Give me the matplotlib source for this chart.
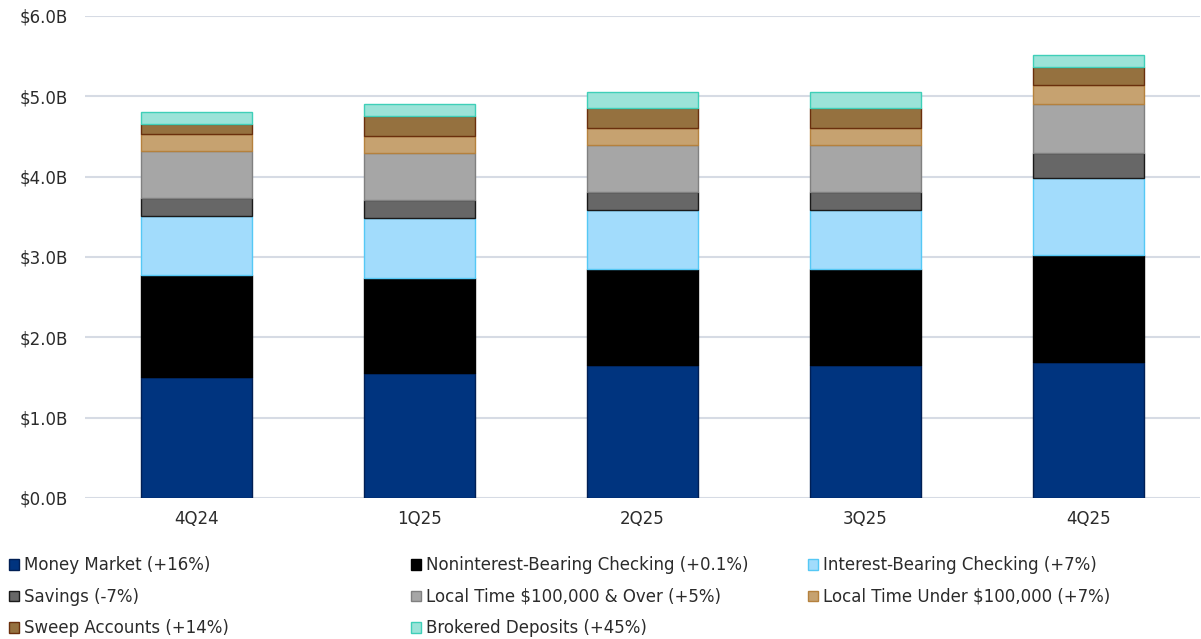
import numpy as np
import matplotlib
matplotlib.use("Agg")
import matplotlib.pyplot as plt
from matplotlib.patches import Patch

plt.rcParams['font.family'] = ['DejaVu Sans']

# data ($B)
quarters = ["4Q24", "1Q25", "2Q25", "3Q25", "4Q25"]
money_market = [1.50, 1.55, 1.65, 1.65, 1.69]
nonint_checking = [1.27, 1.19, 1.20, 1.20, 1.33]
int_checking = [0.74, 0.74, 0.74, 0.74, 0.96]
savings = [0.22, 0.23, 0.22, 0.22, 0.31]
lt_over = [0.59, 0.59, 0.59, 0.59, 0.61]
lt_under = [0.21, 0.21, 0.21, 0.21, 0.24]
sweep = [0.13, 0.24, 0.24, 0.24, 0.22]
brokered = [0.14, 0.16, 0.20, 0.20, 0.15]

series = [
    ("Money Market (+16%)", money_market, "#00347f", "#001f55"),
    ("Noninterest-Bearing Checking (+0.1%)", nonint_checking, "#000000", "#000000"),
    ("Interest-Bearing Checking (+7%)", int_checking, "#a2dcfc", "#55c8f5"),
    ("Savings (-7%)", savings, "#676767", "#1a1a1a"),
    ("Local Time $100,000 & Over (+5%)", lt_over, "#a6a6a6", "#808080"),
    ("Local Time Under $100,000 (+7%)", lt_under, "#c6a270", "#b5813d"),
    ("Sweep Accounts (+14%)", sweep, "#95713f", "#6a2f0c"),
    ("Brokered Deposits (+45%)", brokered, "#9be3d8", "#3fcfb8"),
]

fig = plt.figure(figsize=(12.01, 6.39), dpi=100)
ax = fig.add_axes([0.0708, 0.2207, 0.9284, 0.7543])

x = np.arange(len(quarters))
bottom = np.zeros(len(quarters))
handles = []
for label, vals, fc, ec in series:
    ax.bar(x, vals, width=0.5, bottom=bottom, color=fc, edgecolor=ec,
           linewidth=1.0, zorder=3)
    bottom += np.array(vals)
    handles.append(Patch(facecolor=fc, edgecolor=ec, linewidth=1.0, label=label))

ax.set_xlim(-0.5, 4.5)
ax.set_ylim(0, 6)
ax.set_yticks(np.arange(0, 7, 1))
ax.set_yticklabels([f"${v:.1f}B" for v in range(7)])
ax.set_xticks(x)
ax.set_xticklabels(quarters)
ax.grid(axis='y', color='#d6dbe4', linewidth=1.5, zorder=0)
for s in ax.spines.values():
    s.set_visible(False)
ax.tick_params(axis='both', length=0, labelsize=12, colors='#2b2b2b')
ax.tick_params(axis='y', pad=12)
ax.tick_params(axis='x', pad=9)

# legend in three columns, laid out row-wise
col_x = [0.003, 0.338, 0.669]
cols = [[0, 3, 6], [1, 4, 7], [2, 5]]
for cx, idx in zip(col_x, cols):
    fig.legend(handles=[handles[i] for i in idx], loc='upper left',
               bbox_to_anchor=(cx, 0.137), frameon=False, fontsize=12,
               handlelength=0.6, handleheight=0.6, handletextpad=0.3,
               labelspacing=0.8, borderaxespad=0, borderpad=0.3,
               labelcolor='#2b2b2b')

fig.savefig("out.png", dpi=100)
